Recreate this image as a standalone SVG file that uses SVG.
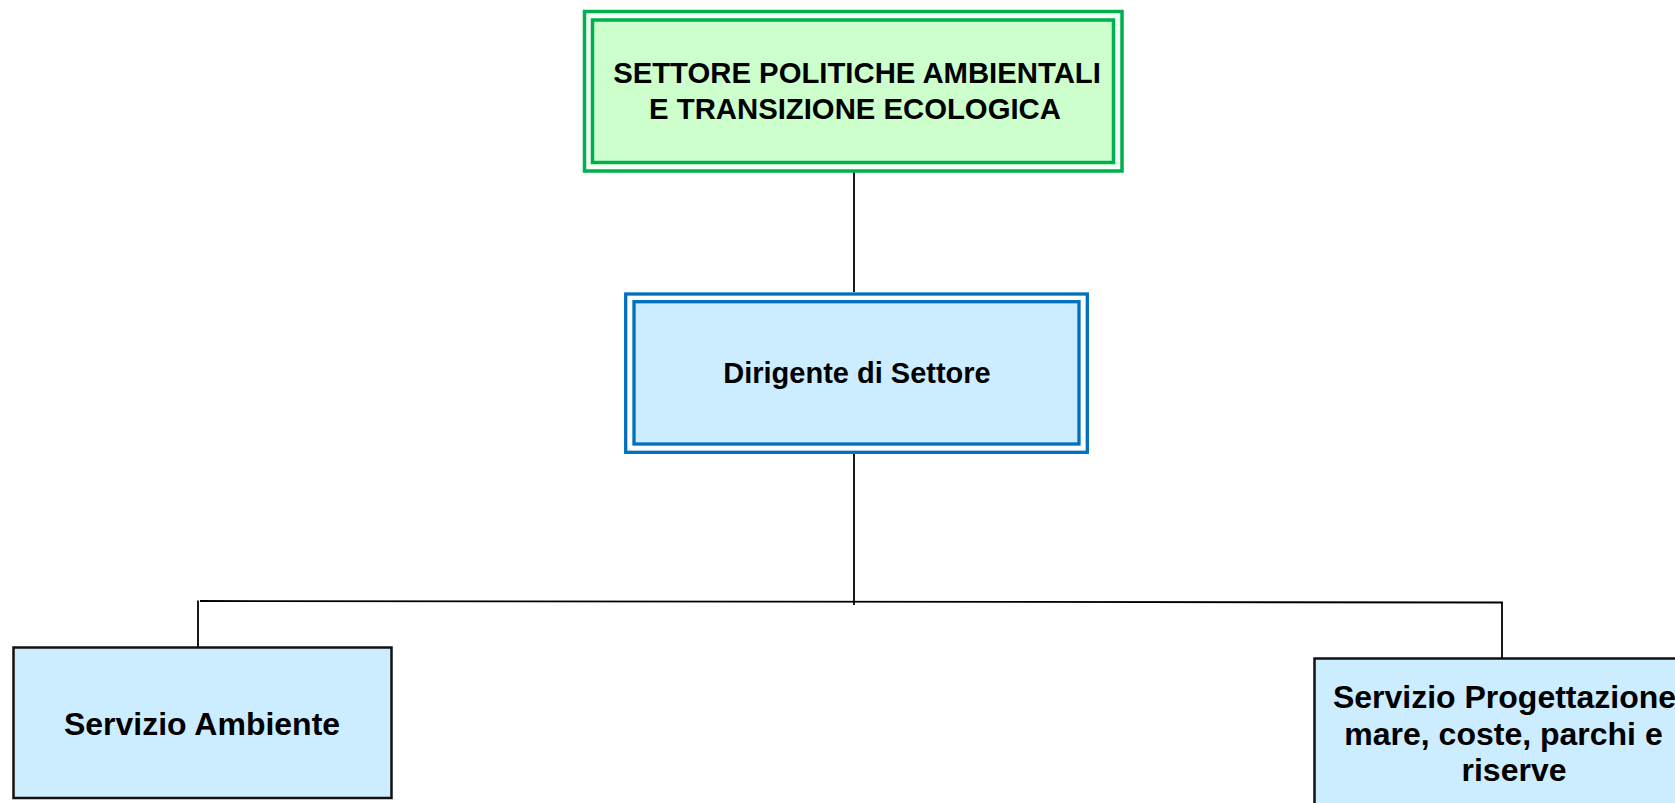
<svg xmlns="http://www.w3.org/2000/svg" width="1675" height="803" viewBox="0 0 1675 803">
<style>
.t{font-family:"Liberation Sans",Arial,sans-serif;font-weight:bold;fill:#000;text-anchor:middle}
.g{stroke:#00B050;stroke-width:3.5}
.b{stroke:#0070C0;stroke-width:3.3}
.s{fill:#CCECFF;stroke:#111;stroke-width:2.5}
.c{stroke:#000;stroke-width:1.8;fill:none}
</style>
<rect width="1675" height="803" fill="#fff"/>
<g id="connectors">
<line class="c" x1="854" y1="172" x2="854" y2="292"/>
<line class="c" x1="854" y1="454" x2="854" y2="605"/>
<line class="c" x1="200" y1="601" x2="1503" y2="602.5"/>
<line class="c" x1="198" y1="600.5" x2="198" y2="647"/>
<line class="c" x1="1502" y1="602.5" x2="1502" y2="658"/>
</g>
<g id="settore">
<rect class="g" x="584.5" y="11.5" width="537.5" height="159.5" fill="#F2FFF2"/>
<rect class="g" x="592.5" y="20" width="521" height="142.5" fill="#CCFFCC"/>
<text class="t" x="857" y="83" font-size="29.3">SETTORE POLITICHE AMBIENTALI</text>
<text class="t" x="855" y="119" font-size="29.3">E TRANSIZIONE ECOLOGICA</text>
</g>
<g id="dirigente">
<rect class="b" x="625.7" y="294" width="461.6" height="158.3" fill="#fff"/>
<rect class="b" x="634" y="301.7" width="445" height="142.3" fill="#CCECFF"/>
<text class="t" x="857" y="383" font-size="29">Dirigente di Settore</text>
</g>
<g id="servizio-ambiente">
<rect class="s" x="13.5" y="647.5" width="378" height="150.5"/>
<text class="t" x="202" y="735" font-size="32">Servizio Ambiente</text>
</g>
<g id="servizio-progettazione">
<rect class="s" x="1314.5" y="658.5" width="420" height="170"/>
<text class="t" x="1504.5" y="708" font-size="32">Servizio Progettazione</text>
<text class="t" x="1503.5" y="745" font-size="32">mare, coste, parchi e</text>
<text class="t" x="1514" y="781" font-size="32">riserve</text>
</g>
</svg>
